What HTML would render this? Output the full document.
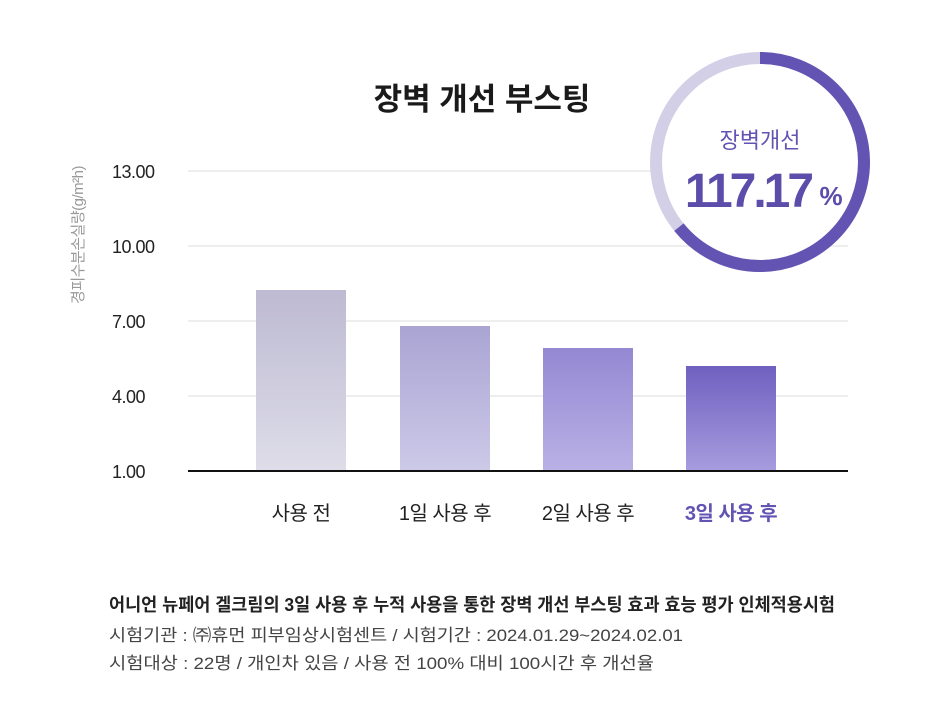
<!DOCTYPE html>
<html><head><meta charset="utf-8"><style>
body{margin:0;background:#fff;}
svg text{font-family:"Liberation Sans","Noto Sans CJK KR",sans-serif;}
</style></head><body>
<svg width="940" height="696" viewBox="0 0 940 696" xmlns="http://www.w3.org/2000/svg">
<defs>
<linearGradient id="g1" x1="0" y1="0" x2="0" y2="1"><stop offset="0" stop-color="#bdbad2"/><stop offset="1" stop-color="#dedde8"/></linearGradient>
<linearGradient id="g2" x1="0" y1="0" x2="0" y2="1"><stop offset="0" stop-color="#aaa4d3"/><stop offset="1" stop-color="#cdc9e8"/></linearGradient>
<linearGradient id="g3" x1="0" y1="0" x2="0" y2="1"><stop offset="0" stop-color="#9488d3"/><stop offset="1" stop-color="#b9b1e5"/></linearGradient>
<linearGradient id="g4" x1="0" y1="0" x2="0" y2="1"><stop offset="0" stop-color="#6f60c0"/><stop offset="1" stop-color="#a79cde"/></linearGradient>
</defs>
<rect width="940" height="696" fill="#fff"/>
<text x="482" y="110" font-size="31" font-weight="bold" fill="#1a1a1a" text-anchor="middle">장벽 개선 부스팅</text>
<g stroke="#dcdcdc" stroke-width="1">
<line x1="188" y1="171" x2="848" y2="171"/>
<line x1="188" y1="246" x2="848" y2="246"/>
<line x1="188" y1="321" x2="848" y2="321"/>
<line x1="188" y1="396" x2="848" y2="396"/>
</g>
<g font-size="18" fill="#222" letter-spacing="-0.5">
<text x="112" y="178">13.00</text>
<text x="112" y="253">10.00</text>
<text x="112" y="328">7.00</text>
<text x="112" y="403">4.00</text>
<text x="112" y="478">1.00</text>
</g>
<text transform="translate(83,235) rotate(-90)" font-size="15" fill="#999" text-anchor="middle" letter-spacing="-0.5">경피수분손실량(g/m²h)</text>
<rect x="256" y="290" width="90" height="181" fill="url(#g1)"/>
<rect x="400" y="326" width="90" height="145" fill="url(#g2)"/>
<rect x="543" y="348" width="90" height="123" fill="url(#g3)"/>
<rect x="686" y="366" width="90" height="105" fill="url(#g4)"/>
<line x1="188" y1="471" x2="848" y2="471" stroke="#111" stroke-width="2"/>
<g font-size="20" text-anchor="middle" fill="#222" letter-spacing="-0.5">
<text x="301" y="520">사용 전</text>
<text x="445" y="520">1일 사용 후</text>
<text x="588" y="520">2일 사용 후</text>
<text x="731" y="520" fill="#6354b4" font-weight="bold">3일 사용 후</text>
</g>
<circle cx="760" cy="162" r="104" fill="#fff" stroke="#d2cfe6" stroke-width="12"/>
<circle cx="760" cy="162" r="104" fill="none" stroke="#6353b3" stroke-width="12" stroke-dasharray="419.5 700" transform="rotate(-90 760 162)"/>
<text x="760" y="148" font-size="22" fill="#6353b3" text-anchor="middle">장벽개선</text>
<text x="748" y="207" font-size="48" font-weight="bold" fill="#5c4dab" text-anchor="middle" letter-spacing="-3">117.17</text>
<text x="831" y="205" font-size="26" font-weight="bold" fill="#5c4dab" text-anchor="middle">%</text>
<text x="109" y="611" font-size="18" font-weight="bold" fill="#222" textLength="726" lengthAdjust="spacingAndGlyphs">어니언 뉴페어 겔크림의 3일 사용 후 누적 사용을 통한 장벽 개선 부스팅 효과 효능 평가 인체적용시험</text>
<text x="109" y="641" font-size="17" fill="#444" textLength="574" lengthAdjust="spacingAndGlyphs">시험기관 : ㈜휴먼 피부임상시험센트 / 시험기간 : 2024.01.29~2024.02.01</text>
<text x="109" y="669" font-size="17" fill="#444" textLength="545" lengthAdjust="spacingAndGlyphs">시험대상 : 22명 / 개인차 있음 / 사용 전 100% 대비 100시간 후 개선율</text>
</svg>
</body></html>
